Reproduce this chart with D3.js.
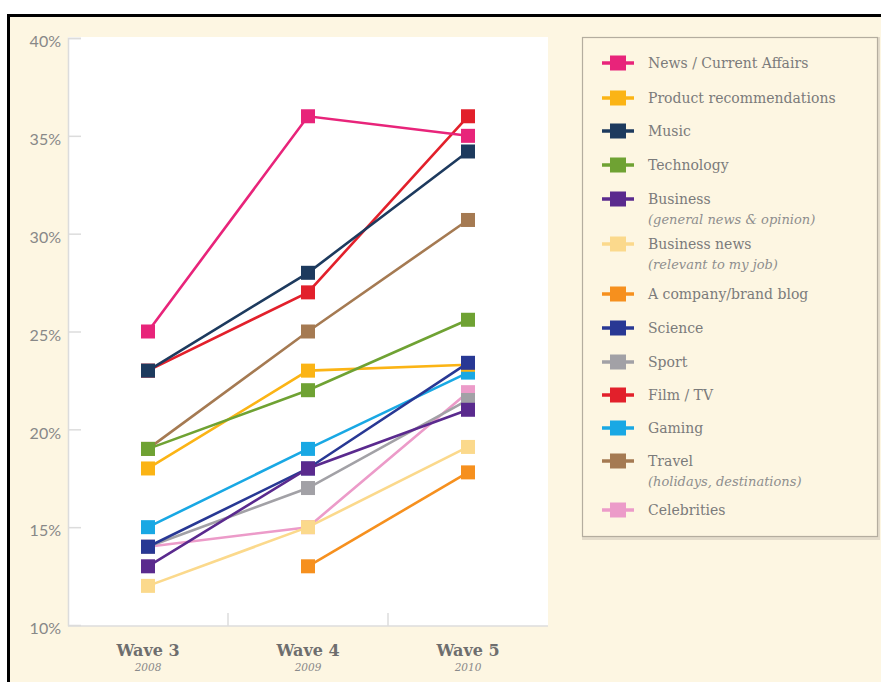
<!DOCTYPE html>
<html>
<head>
<meta charset="utf-8">
<script src="https://cdn.jsdelivr.net/npm/d3@7"></script>
<style>
  body { margin: 0; background: #ffffff; }
  svg { display: block; }
</style>
</head>
<body>
<div id="chart"></div>
<script>
chart_width = 881;
chart_height = 682;

// categories
waves = ['Wave 3', 'Wave 4', 'Wave 5'];
years = ['2008', '2009', '2010'];
y_ticks = [10, 15, 20, 25, 30, 35, 40];

// series values (% per wave, null = not asked)
news = [25, 36, 35];
product = [18, 23, 23.3];
music = [23, 28, 34.2];
technology = [19, 22, 25.6];
business = [13, 18, 21.0];
business_news = [12, 15, 19.1];
company_blog = [null, 13, 17.8];
science = [14, 18, 23.4];
sport = [14, 17, 21.5];
film_tv = [23, 27, 36];
gaming = [15, 19, 22.9];
travel = [19, 25, 30.7];
celebrities = [14, 15, 21.9];

series_names = ['News / Current Affairs', 'Product recommendations', 'Music', 'Technology',
	'Business', 'Business news', 'A company/brand blog', 'Science', 'Sport', 'Film / TV',
	'Gaming', 'Travel', 'Celebrities'];
series_notes = ['', '', '', '', '(general news & opinion)', '(relevant to my job)', '', '', '', '',
	'', '(holidays, destinations)', ''];
series_values = [news, product, music, technology, business, business_news, company_blog,
	science, sport, film_tv, gaming, travel, celebrities];

series_colors = ['#e8247a', '#fbb415', '#1d3a5e', '#6fa233', '#5a2a8e', '#fbd98c', '#f6901e',
	'#283894', '#a2a1a6', '#e2202b', '#19a8e4', '#a57a52', '#ec9bc9'];

// order the lines are painted (later ones sit on top)
draw_order = ['Celebrities', 'Travel', 'Gaming', 'Film / TV', 'Sport', 'Product recommendations',
	'Science', 'A company/brand blog', 'Business news', 'Business', 'Technology', 'Music',
	'News / Current Affairs'];

series = series_names.map(function(name, i) {
	return {
		name: name,
		note: series_notes[i],
		color: series_colors[i],
		values: series_values[i].map(function(v, j) { return { wave: waves[j], value: v }; })
	};
});

cream = '#fdf6e2';
text_grey = '#7b7b7b';

svg = d3.select('#chart')
	.append('svg')
	.attr('width', chart_width)
	.attr('height', chart_height);

// page frame
svg.append('rect')
	.attr('x', 9).attr('y', 15)
	.attr('width', chart_width - 9).attr('height', chart_height - 15)
	.attr('fill', cream);
svg.append('path')
	.attr('d', 'M8.5,' + chart_height + 'V15.5H' + chart_width)
	.attr('fill', 'none')
	.attr('stroke', '#000')
	.attr('stroke-width', 3);

x_scale = d3.scaleBand()
	.domain(waves)
	.range([68, 548])
	.padding(0);

y_scale = d3.scaleLinear()
	.domain([10, 40])
	.range([625, 38]);

// plot panel
svg.append('rect')
	.attr('x', 68).attr('y', 37)
	.attr('width', 480).attr('height', 589)
	.attr('fill', '#ffffff');

// y axis
y_axis = svg.append('g')
	.attr('transform', 'translate(68,0)')
	.call(d3.axisRight(y_scale).tickValues(y_ticks).tickSize(13).tickFormat(function(d) { return d + '%'; }));
y_axis.select('.domain').attr('stroke', '#dcdcdc').attr('stroke-width', 1.5);
y_axis.selectAll('.tick line').attr('stroke', '#dcdcdc').attr('stroke-width', 1.5);
y_axis.selectAll('.tick text')
	.attr('x', -7)
	.attr('dy', '0.55em')
	.attr('text-anchor', 'end')
	.attr('fill', '#888888')
	.style('font-family', 'Lato, "Open Sans", sans-serif')
	.style('font-size', '16px');
y_axis.selectAll('.tick').filter(function(d) { return d === 10; }).select('line').remove();

// x axis line and dividers
svg.append('line')
	.attr('x1', 68).attr('x2', 548)
	.attr('y1', 626).attr('y2', 626)
	.attr('stroke', '#dcdcdc').attr('stroke-width', 1.5);
svg.selectAll('.divider')
	.data(waves.slice(1))
	.enter()
	.append('line')
	.attr('class', 'divider')
	.attr('x1', (d) => x_scale(d)).attr('x2', (d) => x_scale(d))
	.attr('y1', 613).attr('y2', 626)
	.attr('stroke', '#dcdcdc').attr('stroke-width', 1.5);

svg.selectAll('.wave-label')
	.data(waves)
	.enter()
	.append('text')
	.attr('class', 'wave-label')
	.attr('x', (d) => x_scale(d) + x_scale.bandwidth() / 2)
	.attr('y', 656)
	.attr('text-anchor', 'middle')
	.attr('fill', '#6e6e6e')
	.style('font-family', '"DejaVu Serif", serif')
	.style('font-weight', 'bold')
	.style('font-size', '16px')
	.text((d) => d);

svg.selectAll('.year-label')
	.data(years)
	.enter()
	.append('text')
	.attr('class', 'year-label')
	.attr('x', (d, i) => x_scale(waves[i]) + x_scale.bandwidth() / 2)
	.attr('y', 671)
	.attr('text-anchor', 'middle')
	.attr('fill', '#8a8a8a')
	.style('font-family', '"DejaVu Serif", serif')
	.style('font-style', 'italic')
	.style('font-size', '10.5px')
	.text((d) => d);

// lines + square markers
line = d3.line()
	.defined((d) => d.value !== null)
	.x((d) => x_scale(d.wave) + x_scale.bandwidth() / 2)
	.y((d) => y_scale(d.value));

ordered = draw_order.map(function(name) { return series.find((s) => s.name === name); });

groups = svg.selectAll('.series')
	.data(ordered)
	.enter()
	.append('g')
	.attr('class', 'series');

groups.append('path')
	.attr('d', (d) => line(d.values))
	.attr('fill', 'none')
	.attr('stroke', (d) => d.color)
	.attr('stroke-width', 2.6);

marker = 14;
groups.selectAll('rect')
	.data((d) => d.values.filter((v) => v.value !== null).map((v) => ({ wave: v.wave, value: v.value, color: d.color })))
	.enter()
	.append('rect')
	.attr('x', (d) => x_scale(d.wave) + x_scale.bandwidth() / 2 - marker / 2)
	.attr('y', (d) => y_scale(d.value) - marker / 2)
	.attr('width', marker)
	.attr('height', marker)
	.attr('fill', (d) => d.color);

// legend
legend = svg.append('g');
legend.append('rect')
	.attr('x', 583.5).attr('y', 38.5)
	.attr('width', 295).attr('height', 500)
	.attr('fill', 'none')
	.attr('stroke', '#e4dccb').attr('stroke-width', 3);
legend.append('rect')
	.attr('x', 582.5).attr('y', 37.5)
	.attr('width', 295).attr('height', 499)
	.attr('fill', cream)
	.attr('stroke', '#b4ad9f').attr('stroke-width', 1.2);

legend_rows = [63, 98, 131, 165, 199, 244, 294, 328, 362, 395, 428, 461, 510];

items = legend.selectAll('.legend-item')
	.data(series)
	.enter()
	.append('g')
	.attr('class', 'legend-item')
	.attr('transform', (d, i) => 'translate(0,' + legend_rows[i] + ')');

items.append('line')
	.attr('x1', 602).attr('x2', 634)
	.attr('stroke', (d) => d.color)
	.attr('stroke-width', 3.5);
items.append('rect')
	.attr('x', 610).attr('y', -7.5)
	.attr('width', 16).attr('height', 15)
	.attr('fill', (d) => d.color);
items.append('text')
	.attr('x', 648).attr('y', 5)
	.attr('fill', text_grey)
	.style('font-family', '"DejaVu Serif", serif')
	.style('font-size', '14px')
	.text((d) => d.name);
items.filter((d) => d.note !== '')
	.append('text')
	.attr('x', 648).attr('y', 25)
	.attr('fill', '#8e8e8e')
	.style('font-family', '"DejaVu Serif", serif')
	.style('font-style', 'italic')
	.style('font-size', '13px')
	.text((d) => d.note);
</script>
</body>
</html>
